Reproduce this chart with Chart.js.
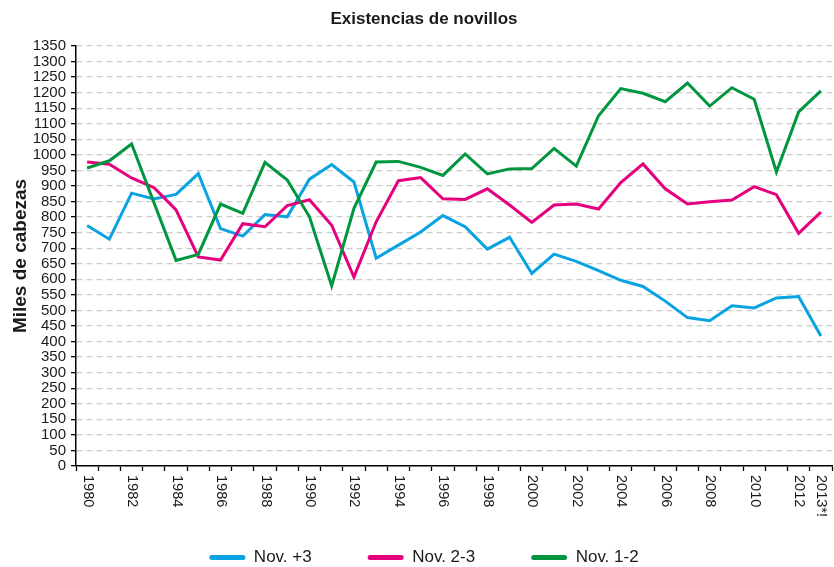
<!DOCTYPE html>
<html>
<head>
<meta charset="utf-8">
<script src="https://cdn.jsdelivr.net/npm/chart.js@4.4.1/dist/chart.umd.min.js"></script>
<style>
html,body{margin:0;padding:0;background:#ffffff;}
#wrap{width:834px;height:567px;position:relative;}
</style>
</head>
<body>
<div id="wrap"><canvas id="c" width="834" height="567"></canvas></div>
<script>
// ---- data ----
const years = ['1980','1981','1982','1983','1984','1985','1986','1987','1988','1989',
               '1990','1991','1992','1993','1994','1995','1996','1997','1998','1999',
               '2000','2001','2002','2003','2004','2005','2006','2007','2008','2009',
               '2010','2011','2012','2013*!'];
const tickLabels = ['1980','','1982','','1984','','1986','','1988','',
                    '1990','','1992','','1994','','1996','','1998','',
                    '2000','','2002','','2004','','2006','','2008','',
                    '2010','','2012','2013*!'];
const seriesNames = ['Nov. +3', 'Nov. 2-3', 'Nov. 1-2'];
const novMas3 = [773,729,877,858,873,940,763,739,808,801,
                 922,969,913,668,710,752,805,769,697,735,
                 619,681,658,628,597,577,530,477,467,515,
                 508,540,545,418];
const nov23 = [977,970,926,895,823,672,662,779,769,837,
               856,774,607,785,917,927,859,857,891,839,
               783,839,842,826,911,971,891,842,849,855,
               898,872,748,816];
const nov12 = [958,981,1035,848,661,680,842,812,976,919,
               801,579,828,977,979,960,934,1003,939,955,
               956,1021,964,1126,1213,1198,1171,1231,1157,1216,
               1179,945,1138,1206];
const yMin = 0, yMax = 1350, yStep = 50;

// ---- styling ----
const FONT = '"Liberation Sans", Arial, Helvetica, sans-serif';
const TXT = '#1a1a1a';
const BLUE = '#0aa3e2', PINK = '#e5007e', GREEN = '#00963f';
Chart.defaults.font.family = FONT;
Chart.defaults.color = TXT;

// x labels rotated clockwise (read top to bottom)
const xLabelPlugin = {
  id: 'xLabelsDown',
  afterDraw(chart) {
    const s = chart.scales.x;
    const ctx = chart.ctx;
    ctx.save();
    ctx.font = '14.5px ' + FONT;
    ctx.fillStyle = TXT;
    ctx.textAlign = 'left';
    ctx.textBaseline = 'middle';
    tickLabels.forEach((t, i) => {
      if (!t) return;
      const x = s.getPixelForTick(i);
      ctx.save();
      ctx.translate(x + 0.5, s.top + 9);
      ctx.rotate(Math.PI / 2);
      ctx.fillText(t, 0, 0);
      ctx.restore();
    });
    ctx.restore();
  }
};

const mk = (label, data, color, order) => ({
  label, data,
  borderColor: color, backgroundColor: color,
  borderWidth: 3, pointRadius: 0, pointHoverRadius: 0,
  tension: 0, fill: false, order,
  borderJoinStyle: 'miter', borderCapStyle: 'butt'
});

new Chart(document.getElementById('c'), {
  type: 'line',
  data: {
    labels: years,
    datasets: [
      mk(seriesNames[0], novMas3, BLUE, 2),
      mk(seriesNames[1], nov23, PINK, 1),
      mk(seriesNames[2], nov12, GREEN, 0)
    ]
  },
  options: {
    responsive: false,
    devicePixelRatio: 1,
    animation: false,
    events: [],
    layout: { padding: { left: 16, right: 2, top: 0, bottom: 0 } },
    plugins: {
      title: {
        display: true,
        text: 'Existencias de novillos',
        font: { size: 17, weight: 'bold', family: FONT },
        color: TXT,
        padding: { top: 9, bottom: 16.6 }
      },
      legend: {
        display: true,
        position: 'bottom',
        maxHeight: 74,
        labels: {
          boxWidth: 36,
          boxHeight: 5,
          padding: 56,
          useBorderRadius: true,
          borderRadius: 2.5,
          font: { size: 17, family: FONT },
          color: TXT,
          sort: (a, b) => a.datasetIndex - b.datasetIndex,
          generateLabels(chart) {
            const items = Chart.defaults.plugins.legend.labels.generateLabels(chart);
            items.forEach(it => { it.lineWidth = 0; it.fillStyle = it.strokeStyle; });
            return items;
          }
        }
      },
      tooltip: { enabled: false }
    },
    scales: {
      x: {
        type: 'category',
        offset: true,
        afterFit(scale) { scale.height = 27; },
        grid: {
          display: true, offset: true, drawOnChartArea: false, drawTicks: true,
          tickLength: 5, tickColor: '#000', tickWidth: 1.3
        },
        border: { display: true, color: '#000', width: 1.5 },
        ticks: { display: false, autoSkip: false }
      },
      y: {
        min: yMin, max: yMax,
        afterFit(scale) { scale.width = 60; },
        title: {
          display: true,
          text: 'Miles de cabezas',
          font: { size: 19, weight: 'bold', family: FONT },
          color: TXT,
          padding: { top: -7, bottom: 0 }
        },
        grid: {
          color: '#cccccc', lineWidth: 1.3,
          drawTicks: true, tickLength: 5, tickColor: '#000', tickWidth: 1.3
        },
        border: { display: true, color: '#000', width: 1.5, dash: [6, 4] },
        ticks: {
          stepSize: yStep, autoSkip: false, padding: 5,
          font: { size: 15, family: FONT }, color: TXT,
          callback: (v) => String(v)
        }
      }
    }
  },
  plugins: [xLabelPlugin]
});
</script>
</body>
</html>
